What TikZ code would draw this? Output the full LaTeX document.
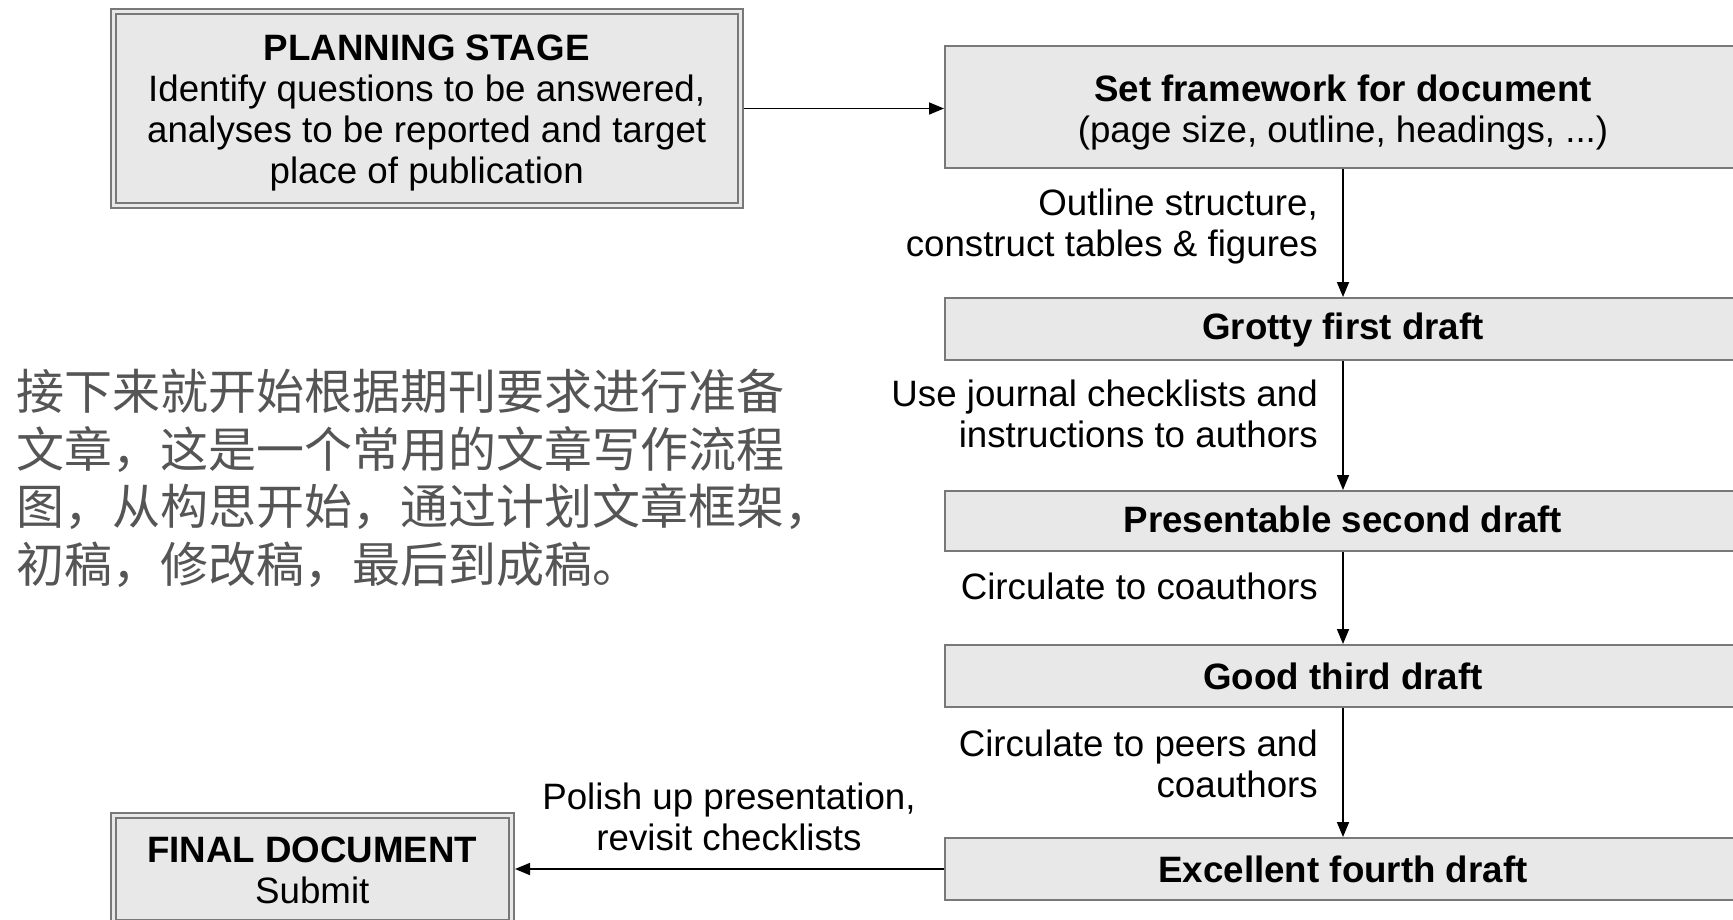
\documentclass[tikz,border=0pt]{standalone}
\usepackage{fontspec}
\setmainfont{Liberation Sans}
\newfontfamily\cjk{Noto Sans CJK SC}
\usetikzlibrary{arrows.meta}
\definecolor{boxfill}{RGB}{232,232,232}
\definecolor{boxline}{RGB}{120,120,120}
\definecolor{cjkgray}{RGB}{85,85,85}
\begin{document}
\begin{tikzpicture}[x=1pt,y=1pt,
  box/.style={draw=boxline, fill=boxfill, line width=2pt, inner sep=0pt},
  txt/.style={font=\fontsize{36.7}{41}\selectfont, inner sep=0pt, text=black},
  arr/.style={-{Triangle[length=15pt,width=12pt]}, line width=1.6pt, black}]
\useasboundingbox (0,0) rectangle (1733,-919);
\fill[white] (0,0) rectangle (1733,-919);

% planning stage (double border)
\node[box, minimum width=632pt, minimum height=199pt] (plan) at (426.7,-108.5) {};
\draw[boxline, line width=2pt] ([shift={(6,-6)}]plan.north west) rectangle ([shift={(-6,6)}]plan.south east);
\node[txt, align=center] (plantext) at ([yshift=-4.5pt]plan.center) {\textbf{PLANNING STAGE}\\Identify questions to be answered,\\analyses to be reported and target\\place of publication};

% right column boxes
\node[box, minimum width=796pt, minimum height=122pt] (frame) at (1343,-107) {};
\node[txt, align=center] (frametext) at ([yshift=-6pt]frame.center) {\textbf{Set framework for document}\\(page size, outline, headings, ...)};
\node[box, minimum width=796pt, minimum height=62pt] (grotty) at (1343,-329) {};
\node[txt] (grottytext) at ([yshift=-1.5pt]grotty.center) {\textbf{Grotty first draft}};
\node[box, minimum width=796pt, minimum height=60pt] (present) at (1343,-521) {};
\node[txt] (presenttext) at ([yshift=1.5pt]present.center) {\textbf{Presentable second draft}};
\node[box, minimum width=796pt, minimum height=62pt] (good) at (1343,-676) {};
\node[txt] (goodtext) at (good.center) {\textbf{Good third draft}};
\node[box, minimum width=796pt, minimum height=62pt] (excel) at (1343,-869) {};
\node[txt] (exceltext) at (excel.center) {\textbf{Excellent fourth draft}};

% final document (double border)
\node[box, minimum width=403.5pt, minimum height=112pt] (final) at (312.25,-869) {};
\draw[boxline, line width=2pt] ([shift={(6,-6)}]final.north west) rectangle ([shift={(-6,6)}]final.south east);
\node[txt, align=center] (finaltext) at (312.25,-870) {\textbf{FINAL DOCUMENT}\\Submit};

% connectors
\draw[arr] (plan.east) -- (plan.east -| frame.west);
\draw[arr] (frame.south) -- (grotty.north);
\draw[arr] (grotty.south) -- (present.north);
\draw[arr] (present.south) -- (good.north);
\draw[arr] (good.south) -- (excel.north);
\draw[arr] (excel.west) -- (final.east);

% labels
\node[txt, align=right, anchor=east] (lab1) at (1318,-226.5) {Outline structure,\\construct tables \& figures};
\node[txt, align=right, anchor=east] (lab2) at (1318,-413.5) {Use journal checklists and\\instructions to authors};
\node[txt, align=right, anchor=east] (lab3) at (1318,-586) {Circulate to coauthors};
\node[txt, align=right, anchor=east] (lab4) at (1318,-763.5) {Circulate to peers and\\coauthors};
\node[txt, align=center] (lab5) at (729,-816.5) {Polish up presentation,\\revisit checklists};

% chinese note
\node[font={\cjk\fontsize{48}{57.5}\selectfont}, text=cjkgray, align=left, anchor=west, inner sep=0pt] (note) at (16,-478.5)
 {接下来就开始根据期刊要求进行准备\\文章，这是一个常用的文章写作流程\\图，从构思开始，通过计划文章框架，\\初稿，修改稿，最后到成稿。};
\end{tikzpicture}
\end{document}
